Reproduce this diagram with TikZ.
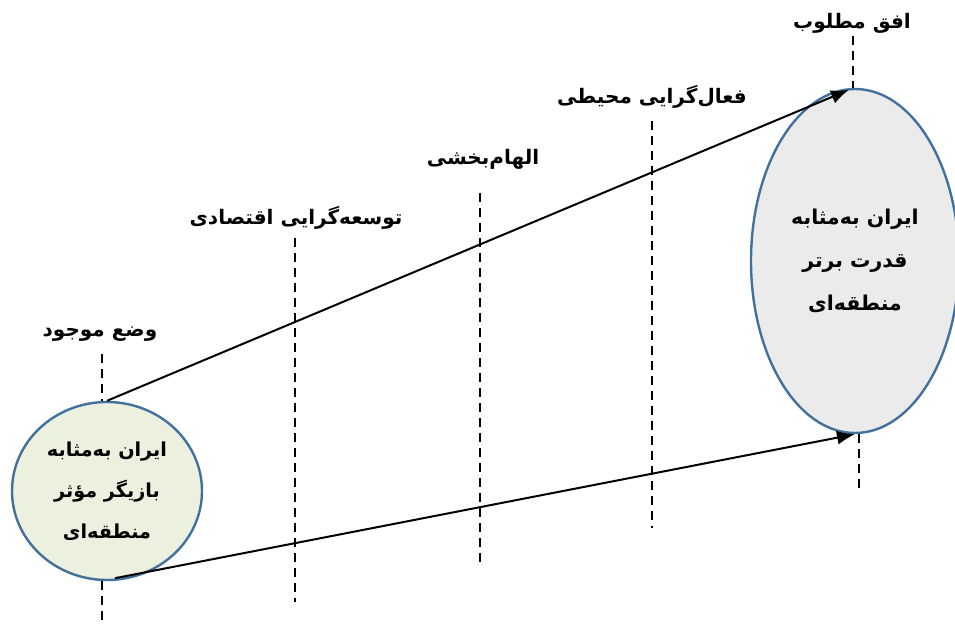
\documentclass[tikz,border=0pt]{standalone}
\usepackage{fontspec}
\newfontfamily\farsi[Script=Arabic]{DejaVu Sans}
\TeXXeTstate=1
\usetikzlibrary{shapes.geometric}
\usetikzlibrary{arrows.meta}
\usetikzlibrary{calc}

\definecolor{rimblue}{HTML}{41719C}
\definecolor{nowfill}{HTML}{EBF1DE}
\definecolor{goalfill}{HTML}{EBEBEB}

\newcommand{\rtl}[1]{\beginR #1\endR}

\begin{document}
\begin{tikzpicture}[x=0.5pt, y=-0.5pt,
    stage/.style={inner sep=1pt, font=\farsi\bfseries\fontsize{10}{12}\selectfont},
    state/.style={ellipse, draw=rimblue, line width=1.2pt, align=center, inner sep=0pt,
                  font=\farsi\bfseries\fontsize{9.6}{20.5}\selectfont},
    guide/.style={line width=0.85pt, dash pattern=on 4.5pt off 3pt},
    move/.style={-{Latex[length=9pt, width=7pt]}, line width=1pt}]

        \useasboundingbox (0,0) rectangle (955,625);

        % the two states
        \node[state, fill=nowfill, minimum width=95pt, minimum height=89pt] (now) at (107,491)
              {\rtl{ایران به‌مثابه}\\ \rtl{بازیگر مؤثر}\\ \rtl{منطقه‌ای}};
        \node[state, fill=goalfill, minimum width=104pt, minimum height=172pt,
              font=\farsi\bfseries\fontsize{10.2}{21.5}\selectfont] (goal) at (855,261)
              {\rtl{ایران به‌مثابه}\\ \rtl{قدرت برتر}\\ \rtl{منطقه‌ای}};

        % stage labels
        \node[stage] (s0) at (100,334) {\rtl{وضع موجود}};
        \node[stage] (s1) at (296,218) {\rtl{توسعه‌گرایی اقتصادی}};
        \node[stage] (s2) at (483,159) {\rtl{الهام‌بخشی}};
        \node[stage] (s3) at (652,97) {\rtl{فعال‌گرایی محیطی}};
        \node[stage] (s4) at (852,23) {\rtl{افق مطلوب}};

        % dashed stage lines
        \foreach \n/\x/\a/\b in {1/295/238/602, 2/480/193/562, 3/652/121/528} {
          \coordinate (top\n) at (\x,\a);
          \coordinate (bot\n) at (\x,\b);
          \draw[guide] (top\n) -- (bot\n);
        }

        \coordinate (top0) at ($(now.north)+(-5,-47)$);
        \coordinate (bot0) at ($(now.south)+(-5,45)$);
        \draw[guide] (top0) -- (top0 |- now.north);
        \draw[guide] (bot0 |- now.south) -- (bot0);

        \coordinate (top4) at ($(goal.north)+(-2,-52)$);
        \coordinate (bot4) at ($(goal.south)+(4,54)$);
        \draw[guide] (top4) -- (top4 |- goal.north);
        \draw[guide] (bot4 |- goal.south) -- (bot4);

        % arrows
        \draw[move] (now.north) -- ($(goal.north)+(-6,2)$);
        \draw[move] ($(now.south)+(8,-3)$) -- (goal.south);

\end{tikzpicture}
\end{document}
